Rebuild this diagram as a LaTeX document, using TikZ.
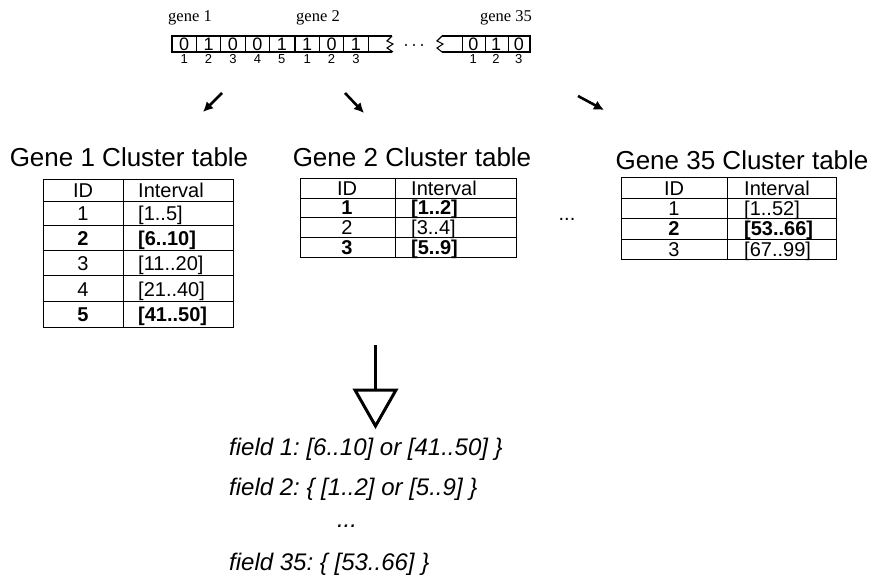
\documentclass[tikz,border=0pt]{standalone}
\usepackage{fontspec}
\setmainfont{Liberation Serif}
\newfontfamily\arial{Liberation Sans}
\usetikzlibrary{arrows.meta}
\frenchspacing
\begin{document}
\begin{tikzpicture}[x=1pt,y=-1pt,
  tline/.style={line width=1pt},
  cellbox/.style={line width=1.2pt},
  genelbl/.style={font=\fontsize{16.5}{16.5}\selectfont, inner sep=0pt},
  bit/.style={font=\arial\fontsize{18}{18}\selectfont, inner sep=0pt},
  idx/.style={font=\arial\fontsize{13}{13}\selectfont, inner sep=0pt},
  ttitle/.style={font=\arial\fontsize{26}{26}\selectfont, inner sep=0pt},
  tcell/.style={font=\arial\fontsize{20}{20}\selectfont, inner sep=0pt, anchor=base},
  tbold/.style={font=\arial\bfseries\fontsize{20}{20}\selectfont, inner sep=0pt, anchor=base},
  field/.style={font=\arial\itshape\fontsize{24}{24}\selectfont, inner sep=0pt, anchor=base west},
  smallarrow/.style={line width=2.6pt, -{Latex[length=10pt,width=10pt]}},
  dot/.style={circle, fill, inner sep=0pt, minimum size=2.4pt}
]
\useasboundingbox (0,0) rectangle (875,577);

% ---------- bit string ----------
\node[genelbl] (g1) at (190,18) {gene 1};
\node[genelbl] (g2) at (318,18) {gene 2};
\node[genelbl] (g35) at (506,18) {gene 35};

% gene 1 + gene 2 box
\draw[cellbox] (392,36) -- (172,36) -- (172,52) -- (392,52);
\foreach \x in {196.4,220.8,245.2,269.6,319.4,343.8,368.2} \draw[line width=0.9pt] (\x,36) -- (\x,52);
\draw[line width=2.2pt] (295,36) -- (295,52);
\draw[line width=1.1pt] (392,36) -- (387,41) -- (393,44) -- (387,48) -- (393,52);
\foreach \b [count=\i] in {0,1,0,0,1} \node[bit] (b1\i) at ({172+24.4*(\i-0.5)},44) {\b};
\foreach \b [count=\i] in {1,0,1} \node[bit] (b2\i) at ({295+24.4*(\i-0.5)},44) {\b};
\node[dot] (d1) at (406,45) {};
\node[dot] (d2) at (414,45) {};
\node[dot] (d3) at (422,45) {};
% gene 35 box
\draw[cellbox] (442,36) -- (530,36) -- (530,52) -- (442,52);
\draw[line width=1.1pt] (442,36) -- (437,41) -- (443,44) -- (437,48) -- (442,52);
\foreach \x in {462,485,508} \draw[line width=0.9pt] (\x,36) -- (\x,52);
\foreach \b [count=\i] in {0,1,0} \node[bit] (b35\i) at ({462+22.7*(\i-0.5)},44) {\b};

% indices
\foreach \i in {1,...,5} \node[idx] (i1\i) at ({172+24.4*(\i-0.5)},59) {\i};
\foreach \i in {1,2,3} \node[idx] (i2\i) at ({295+24.4*(\i-0.5)},59) {\i};
\foreach \i in {1,2,3} \node[idx] (i35\i) at ({462+22.7*(\i-0.5)},59) {\i};

% arrows to tables
\coordinate (a1s) at (222,93); \coordinate (a1e) at (203,112);
\coordinate (a2s) at (345,93); \coordinate (a2e) at (364,113);
\coordinate (a3s) at (578,96); \coordinate (a3e) at (604,110);
\draw[smallarrow] (a1s) -- (a1e);
\draw[smallarrow] (a2s) -- (a2e);
\draw[smallarrow] (a3s) -- (a3e);

% ---------- titles ----------
\node[ttitle] (t1) at (129,157) {Gene 1 Cluster table};
\node[ttitle] (t2) at (412,157) {Gene 2 Cluster table};
\node[ttitle] (t35) at (742,160) {Gene 35 Cluster table};

% ---------- table 1 ----------
\draw[tline] (43,180) rectangle (233,327);
\draw[tline] (123,180) -- (123,327);
\foreach \y in {202,226,251,276,301} \draw[tline] (43,\y) -- (233,\y);
\node[tcell] (t1h1) at (83,198) {ID};
\node[tcell,anchor=base west] (t1h2) at (138,198) {Interval};
\node[tcell] (t1r1a) at (83,221) {1};  \node[tcell,anchor=base west] (t1r1b) at (138,221) {[1..5]};
\node[tbold] (t1r2a) at (83,246) {2};  \node[tbold,anchor=base west] (t1r2b) at (138,246) {[6..10]};
\node[tcell] (t1r3a) at (83,271) {3};  \node[tcell,anchor=base west] (t1r3b) at (138,271) {[11..20]};
\node[tcell] (t1r4a) at (83,296) {4};  \node[tcell,anchor=base west] (t1r4b) at (138,296) {[21..40]};
\node[tbold] (t1r5a) at (83,321) {5};  \node[tbold,anchor=base west] (t1r5b) at (138,321) {[41..50]};

% ---------- table 2 ----------
\draw[tline] (300,179) rectangle (516,258);
\draw[tline] (395,179) -- (395,258);
\foreach \y in {199,218,238} \draw[tline] (300,\y) -- (516,\y);
\node[tcell] (t2h1) at (347,196) {ID};
\node[tcell,anchor=base west] (t2h2) at (411,196) {Interval};
\node[tbold] (t2r1a) at (347,215) {1};  \node[tbold,anchor=base west] (t2r1b) at (411,215) {[1..2]};
\node[tcell] (t2r2a) at (347,235) {2};  \node[tcell,anchor=base west] (t2r2b) at (411,235) {[3..4]};
\node[tbold] (t2r3a) at (347,255) {3};  \node[tbold,anchor=base west] (t2r3b) at (411,255) {[5..9]};

\node[tcell] (mdots) at (567,221) {...};

% ---------- table 35 ----------
\draw[tline] (621,178) rectangle (836,260);
\draw[tline] (727,178) -- (727,260);
\foreach \y in {199,219,240} \draw[tline] (621,\y) -- (836,\y);
\node[tcell] (t3h1) at (674,196) {ID};
\node[tcell,anchor=base west] (t3h2) at (744,196) {Interval};
\node[tcell] (t3r1a) at (674,216) {1};  \node[tcell,anchor=base west] (t3r1b) at (744,216) {[1..52]};
\node[tbold] (t3r2a) at (674,236) {2};  \node[tbold,anchor=base west] (t3r2b) at (744,236) {[53..66]};
\node[tcell] (t3r3a) at (674,257) {3};  \node[tcell,anchor=base west] (t3r3b) at (744,257) {[67..99]};

% ---------- hollow arrow ----------
\coordinate (ha) at (375,345);
\coordinate (hb) at (375,390);
\draw[line width=3pt] (ha) -- (hb);
\draw[line width=3pt, line join=miter] (355,390) -- (396,390) -- (375.5,426) -- cycle;

% ---------- fields ----------
\node[field] (f1) at (229,455) {field 1: [6..10] or [41..50] \}};
\node[field] (f2) at (229,495) {field 2: \{ [1..2] or [5..9] \}};
\node[field,anchor=base] (fd) at (347,527) {...};
\node[field] (f35) at (229,570) {field 35: \{ [53..66] \}};
\end{tikzpicture}
\end{document}
